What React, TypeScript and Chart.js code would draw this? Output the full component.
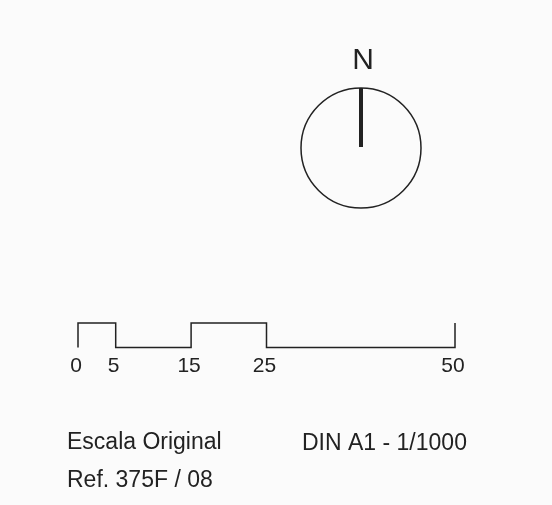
import React, { useEffect, useRef } from "react";
import { Chart, registerables } from "chart.js";

Chart.register(...registerables);

// Scale bar breakpoints (metres) and the level of each segment between them
const scaleTicks = [0, 5, 15, 25, 50];
const segmentLevels = [1, 0, 1, 0];

// Captions
const northLabel = "N";
const captionLeft = "Escala Original";
const captionRight = "DIN A1 - 1/1000";
const captionRef = "Ref. 375F / 08";

const INK = "#222222";
const FONT = '"Liberation Sans", Arial, sans-serif';

function buildScaleBarPoints() {
  const pts: { x: number; y: number }[] = [];
  pts.push({ x: scaleTicks[0], y: 0 });
  for (let i = 0; i < segmentLevels.length; i++) {
    pts.push({ x: scaleTicks[i], y: segmentLevels[i] });
    pts.push({ x: scaleTicks[i + 1], y: segmentLevels[i] });
  }
  pts.push({ x: scaleTicks[scaleTicks.length - 1], y: 1 });
  return pts;
}

const decorPlugin = {
  id: "decor",
  beforeDraw(chart: any) {
    const ctx = chart.ctx;
    ctx.save();
    ctx.fillStyle = "#fbfbfb";
    ctx.fillRect(0, 0, chart.width, chart.height);
    ctx.restore();
  },
  afterDraw(chart: any) {
    const ctx = chart.ctx;
    ctx.save();
    // compass rose
    const cx = 361;
    const cy = 148;
    const r = 60;
    ctx.strokeStyle = INK;
    ctx.lineWidth = 1.5;
    ctx.beginPath();
    ctx.arc(cx, cy, r, 0, Math.PI * 2);
    ctx.stroke();
    ctx.lineWidth = 4;
    ctx.beginPath();
    ctx.moveTo(cx, cy - r);
    ctx.lineTo(cx, cy - 1);
    ctx.stroke();
    ctx.fillStyle = INK;
    ctx.font = `30px ${FONT}`;
    ctx.textAlign = "center";
    ctx.textBaseline = "alphabetic";
    ctx.fillText(northLabel, 363, 69);
    // captions
    ctx.font = `23px ${FONT}`;
    ctx.textAlign = "left";
    ctx.fillText(captionLeft, 67, 449);
    ctx.fillText(captionRight, 302, 450);
    ctx.fillText(captionRef, 67, 487);
    ctx.restore();
  },
};

export default function App() {
  const ref = useRef<HTMLCanvasElement>(null);
  useEffect(() => {
    if (!ref.current) return;
    const chart = new Chart(ref.current, {
      type: "scatter",
      data: {
        datasets: [
          {
            data: buildScaleBarPoints(),
            showLine: true,
            borderColor: INK,
            borderWidth: 1.5,
            pointRadius: 0,
            tension: 0,
            clip: false as any,
          },
        ],
      },
      options: {
        animation: false,
        responsive: true,
        maintainAspectRatio: false,
        layout: { padding: { left: 78, right: 97, top: 323, bottom: 133 } },
        plugins: { legend: { display: false }, tooltip: { enabled: false } },
        scales: {
          x: {
            type: "linear",
            min: 0,
            max: 50,
            border: { display: false },
            grid: { display: false, drawTicks: false },
            afterBuildTicks: (scale: any) => {
              scale.ticks = scaleTicks.map((v) => ({ value: v }));
            },
            ticks: {
              padding: 6,
              labelOffset: -2,
              color: INK,
              font: { family: FONT, size: 21 },
              autoSkip: false,
              maxRotation: 0,
            },
          },
          y: { display: false, min: 0, max: 1 },
        },
      },
      plugins: [decorPlugin],
    });
    return () => chart.destroy();
  }, []);
  return (
    <div style={{ position: "absolute", left: 0, top: 0, width: 552, height: 505 }}>
      <canvas ref={ref} />
    </div>
  );
}
